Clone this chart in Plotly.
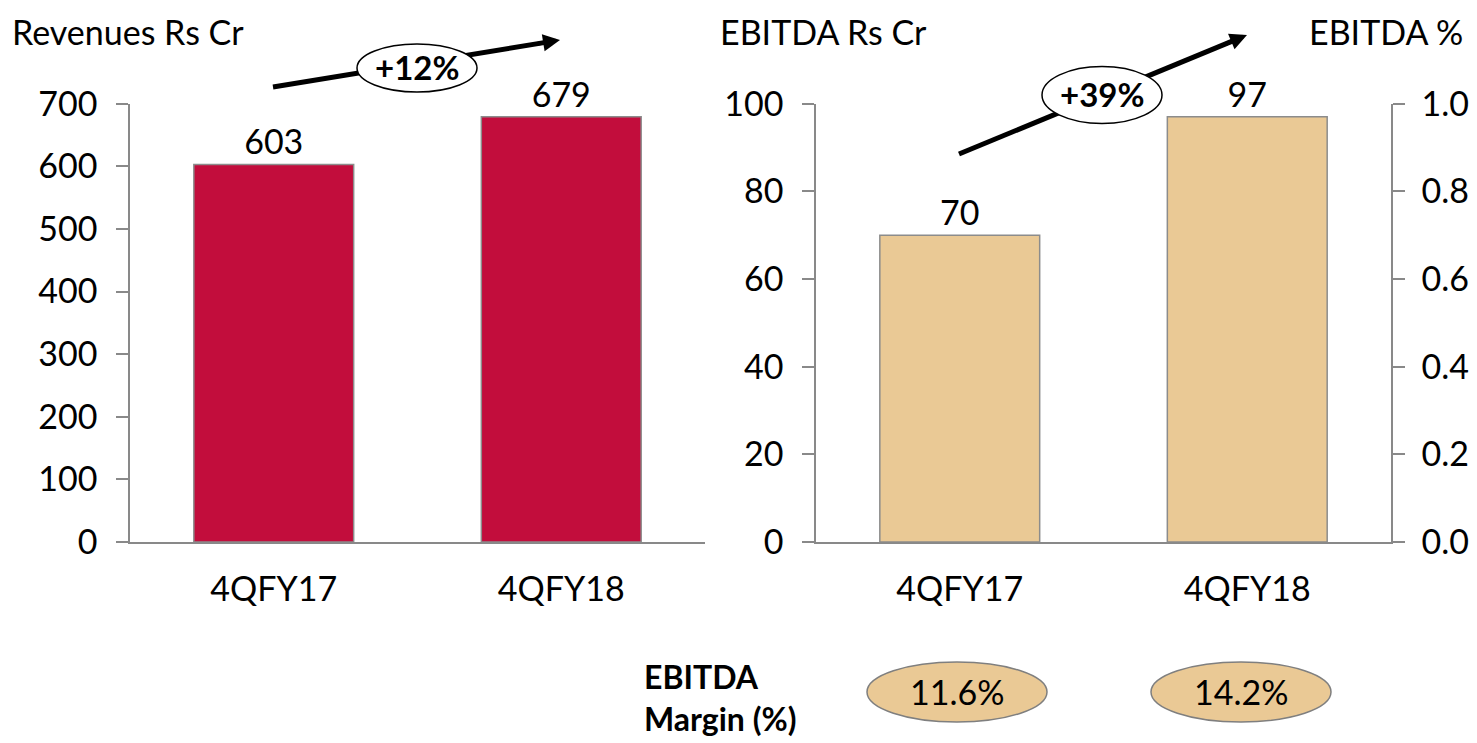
import plotly.graph_objects as go

W, H = 1477, 743

categories = ["4QFY17", "4QFY18"]
revenues = [603, 679]
ebitda = [70, 97]
ebitda_margin_labels = ["11.6%", "14.2%"]
revenue_growth = "+12%"
ebitda_growth = "+39%"

rev_ticks = [0, 100, 200, 300, 400, 500, 600, 700]
ebitda_ticks = [0, 20, 40, 60, 80, 100]
pct_ticks = [0.0, 0.2, 0.4, 0.6, 0.8, 1.0]

RED = "#C20D3C"
BEIGE = "#EAC995"
AXIS = "#898989"
FONT = "Lato"
FS = 34


def px(x):
    return x / W


def py(y):
    return 1 - y / H


fig = go.Figure()

fig.add_trace(go.Bar(
    x=categories, y=revenues, xaxis="x", yaxis="y",
    marker=dict(color=RED, line=dict(color="#8c8c8c", width=1.5)),
    width=0.556, text=[str(v) for v in revenues], textposition="outside",
    textfont=dict(family=FONT, size=FS, color="black"), cliponaxis=False,
    showlegend=False, hoverinfo="skip",
))
fig.add_trace(go.Bar(
    x=categories, y=ebitda, xaxis="x2", yaxis="y2",
    marker=dict(color=BEIGE, line=dict(color="#8c8c8c", width=1.5)),
    width=0.556, text=[str(v) for v in ebitda], textposition="outside",
    textfont=dict(family=FONT, size=FS, color="black"), cliponaxis=False,
    showlegend=False, hoverinfo="skip",
))
# invisible trace to anchor the secondary (percentage) axis
fig.add_trace(go.Scatter(
    x=categories, y=[None, None], xaxis="x2", yaxis="y3",
    mode="markers", showlegend=False, hoverinfo="skip",
))

ydom = [py(542), py(103.7)]
axis_common = dict(
    showline=True, linecolor=AXIS, linewidth=1.5, showgrid=False, zeroline=False,
    automargin=False, fixedrange=True,
    tickfont=dict(family=FONT, size=FS, color="black"),
)

fig.update_layout(
    width=W, height=H, autosize=False,
    margin=dict(l=0, r=0, t=0, b=0, pad=0, autoexpand=False),
    paper_bgcolor="white", plot_bgcolor="white",
    font=dict(family=FONT, size=FS, color="black"),
    bargap=0.44,
    xaxis=dict(domain=[px(130), px(705)], anchor="y", ticks="",
               ticklabelstandoff=16, **axis_common),
    yaxis=dict(domain=ydom, anchor="x", range=[0, 700], tickvals=rev_ticks,
               ticks="outside", ticklen=12, tickcolor=AXIS, tickwidth=1.5,
               ticklabelstandoff=12, **axis_common),
    xaxis2=dict(domain=[px(816), px(1391)], anchor="y2", ticks="",
                ticklabelstandoff=16, **axis_common),
    yaxis2=dict(domain=ydom, anchor="x2", range=[0, 100], tickvals=ebitda_ticks,
                ticks="outside", ticklen=12, tickcolor=AXIS, tickwidth=1.5,
                ticklabelstandoff=12, **axis_common),
    yaxis3=dict(domain=ydom, anchor="x2", overlaying="y2", side="right",
                range=[0, 1], tickvals=pct_ticks, tickformat=".1f",
                ticks="outside", ticklen=12, tickcolor=AXIS, tickwidth=1.5,
                ticklabelstandoff=10, **axis_common),
)

shapes = []
annotations = []

# axis titles
annotations.append(dict(text="Revenues Rs Cr", x=px(10), y=py(31), xref="paper", yref="paper",
                        xanchor="left", yanchor="middle", showarrow=False,
                        font=dict(family=FONT, size=FS, color="black")))
annotations.append(dict(text="EBITDA Rs Cr", x=px(718), y=py(31), xref="paper", yref="paper",
                        xanchor="left", yanchor="middle", showarrow=False,
                        font=dict(family=FONT, size=FS, color="black")))
annotations.append(dict(text="EBITDA %", x=px(1465), y=py(31), xref="paper", yref="paper",
                        xanchor="right", yanchor="middle", showarrow=False,
                        font=dict(family=FONT, size=FS, color="black")))


def growth_arrow(x0, y0, x1, y1, cx, cy, ew, eh, label):
    dx, dy = x1 - x0, y1 - y0
    L = (dx * dx + dy * dy) ** 0.5
    ux, uy = dx / L, dy / L
    # shaft
    shapes.append(dict(type="line", xref="paper", yref="paper",
                       x0=px(x0), y0=py(y0), x1=px(x1 - ux * 10), y1=py(y1 - uy * 10),
                       line=dict(color="black", width=5)))
    # ellipse label background
    shapes.append(dict(type="circle", xref="paper", yref="paper",
                       x0=px(cx - ew / 2), x1=px(cx + ew / 2),
                       y0=py(cy + eh / 2), y1=py(cy - eh / 2),
                       fillcolor="white", line=dict(color="black", width=1.5)))
    # arrow head
    annotations.append(dict(text="", x=px(x1), y=py(y1), xref="paper", yref="paper",
                            ax=-ux * 24, ay=-uy * 24, showarrow=True, arrowhead=2,
                            arrowwidth=4, arrowsize=0.85, arrowcolor="black", standoff=0))
    annotations.append(dict(text="<b>%s</b>" % label, x=px(cx), y=py(cy - 1), xref="paper", yref="paper",
                            xanchor="center", yanchor="middle", showarrow=False,
                            font=dict(family=FONT, size=33, color="black")))


growth_arrow(273, 87, 560, 40, 417, 68, 120, 48, revenue_growth)
growth_arrow(959, 154, 1247, 35, 1102, 95, 120, 57, ebitda_growth)

# EBITDA margin row
annotations.append(dict(text="<b>EBITDA</b>", x=px(642), y=py(676), xref="paper", yref="paper",
                        xanchor="left", yanchor="middle", showarrow=False,
                        font=dict(family=FONT, size=32, color="black")))
annotations.append(dict(text="<b>Margin (%)</b>", x=px(642), y=py(718), xref="paper", yref="paper",
                        xanchor="left", yanchor="middle", showarrow=False,
                        font=dict(family=FONT, size=32, color="black")))
for cx, lab in zip([957, 1241], ebitda_margin_labels):
    shapes.append(dict(type="circle", xref="paper", yref="paper",
                       x0=px(cx - 90), x1=px(cx + 90), y0=py(722), y1=py(662),
                       fillcolor=BEIGE, line=dict(color="#7f7f7f", width=1.5)))
    annotations.append(dict(text=lab, x=px(cx), y=py(691), xref="paper", yref="paper",
                            xanchor="center", yanchor="middle", showarrow=False,
                            font=dict(family=FONT, size=FS, color="black")))

fig.update_layout(shapes=shapes, annotations=annotations)

fig.write_html("out.html", config={"displayModeBar": False})
